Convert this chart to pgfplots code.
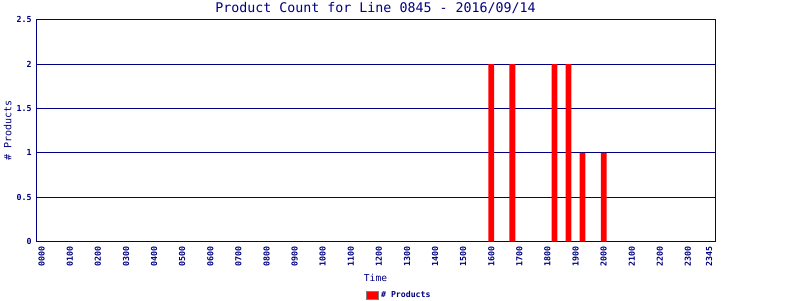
\documentclass[border=0pt]{standalone}
\usepackage{fontspec}
\setmainfont{DejaVu Sans Mono}
\usepackage{pgfplots}
\pgfplotsset{compat=1.18}
\definecolor{navy}{RGB}{0,0,128}
\begin{document}
\begin{tikzpicture}[x=1pt,y=1pt]
\path[use as bounding box] (0,0) rectangle (800,300);
\begin{axis}[
  at={(36pt,58.3pt)}, anchor=south west,
  scale only axis, width=679pt, height=222pt,
  xmin=-0.81, xmax=95.85, ymin=0, ymax=2.5,
  ybar, bar width=5.8pt,
  axis line style={navy, line width=0.9pt},
  major tick length=0pt,
  ymajorgrids, grid style={navy, line width=0.9pt},
  ytick={0,0.5,1,1.5,2,2.5},
  yticklabels={0,0.5,1,1.5,2,2.5},
  xtick={0,4,8,12,16,20,24,28,32,36,40,44,48,52,56,60,64,68,72,76,80,84,88,92,95},
  xticklabels={0000,0100,0200,0300,0400,0500,0600,0700,0800,0900,1000,1100,1200,1300,1400,1500,1600,1700,1800,1900,2000,2100,2200,2300,2345},
  xticklabel style={rotate=90, anchor=east, inner sep=0pt, text=navy, font=\fontsize{8.3}{9}\selectfont\bfseries},
  yticklabel style={anchor=east, inner sep=0pt, text=navy, font=\fontsize{8.3}{9}\selectfont\bfseries},
  xticklabel shift=5pt, yticklabel shift=4.3pt,
  /pgf/number format/assume math mode=true,
  every axis title shift=0pt,
  title={Product Count for Line 0845 - 2016/09/14},
  title style={at={(axis description cs:0.5,1)}, anchor=base, yshift=7pt, text=navy, font=\fontsize{13.3}{15}\selectfont},
  xlabel={Time},
  xlabel style={at={(axis description cs:0.5,0)}, anchor=base, yshift=-40pt, text=navy, font=\fontsize{9.6}{11}\selectfont},
  ylabel={\# Products},
  ylabel style={at={(axis description cs:-0.0417,0.5)}, anchor=center, text=navy, font=\fontsize{10}{12}\selectfont},
  legend style={at={(axis description cs:0.535,-0.2414)}, anchor=center, draw=none, fill=none, inner sep=0pt, text=navy, font=\fontsize{8.2}{9}\selectfont\bfseries, nodes={inner sep=2.2pt}},
  legend image code/.code={\draw[fill=red, draw=gray, line width=0.9pt] (0pt,-4.2pt) rectangle (12.2pt,4.2pt);},
]
\addplot[fill=red, draw=none] coordinates {(64,2) (67,2) (73,2) (75,2) (77,1) (80,1)};
\addlegendentry{\# Products}
\end{axis}
\end{tikzpicture}
\end{document}
